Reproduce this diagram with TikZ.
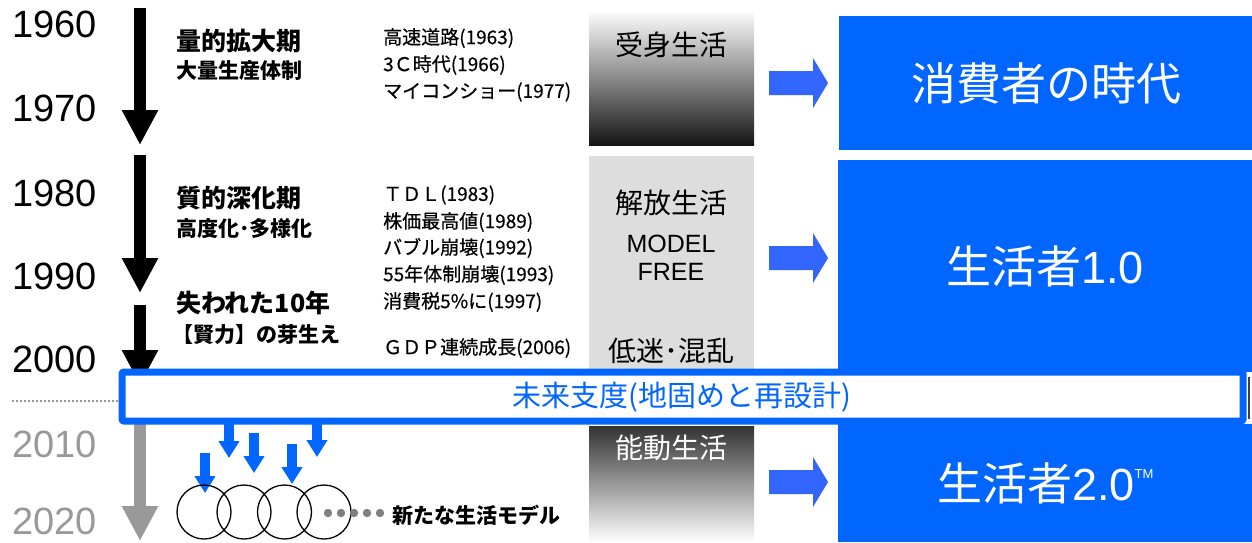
\documentclass[tikz,border=0pt]{standalone}
\usepackage{fontspec}
\setmainfont{Liberation Sans}
\newfontfamily\jp{Noto Sans CJK JP}
\newfontfamily\jpm[FakeBold=0.5]{Noto Sans CJK JP}
\usetikzlibrary{positioning,arrows.meta,shadings}

\definecolor{fhblue}{HTML}{0066FF}
\definecolor{arblue}{HTML}{3366FF}
\definecolor{yeargray}{HTML}{999999}
\definecolor{colgray}{HTML}{DDDDDD}

\tikzset{
  yearlbl/.style={anchor=west, inner sep=0pt, font=\fontsize{38}{38}\selectfont},
  eralbl/.style={anchor=west, inner sep=0pt, font=\jp\bfseries\fontsize{25}{25}\selectfont},
  erasub/.style={anchor=west, inner sep=0pt, font=\jp\bfseries\fontsize{21}{21}\selectfont},
  eventlbl/.style={anchor=west, inner sep=0pt, font=\jpm\fontsize{19}{19}\selectfont},
  lifebox/.style={anchor=north west, inner sep=0pt, minimum width=165pt},
  lifelbl/.style={inner sep=0pt, font=\jp\fontsize{28}{28}\selectfont},
  agebox/.style={anchor=north west, inner sep=0pt, fill=fhblue, text=white,
    minimum width=414pt, font=\fontsize{45}{45}\selectfont},
  timearrow/.style={line width=12pt, -{Triangle[width=34pt,length=35pt]}},
  seedarrow/.style={fhblue, line width=10pt, -{Triangle[width=20pt,length=17pt]}}
}

\begin{document}
\begin{tikzpicture}[x=1pt, y=-1pt]

\newcommand\GX{589}
\newcommand\AX{140}

\fill[white] (0,0) rectangle (1252,542);
\useasboundingbox (0,0) rectangle (1252,542);

%% years
\node[yearlbl] (y1960) at (12,24) {1960};
\node[yearlbl] (y1970) at (12,108) {1970};
\node[yearlbl] (y1980) at (12,193) {1980};
\node[yearlbl] (y1990) at (12,276) {1990};
\node[yearlbl] (y2000) at (12,359) {2000};
\node[yearlbl, text=yeargray] (y2010) at (12,444) {2010};
\node[yearlbl, text=yeargray] (y2020) at (12,521) {2020};

\draw[yeargray, line width=2pt, dash pattern=on 2pt off 2pt] (12,401) -- (118,401);

%% time arrows
\coordinate (t0) at (\AX,8);
\coordinate (t1) at (\AX,145);
\coordinate (t2) at (\AX,155);
\coordinate (t3) at (\AX,293);
\coordinate (t4) at (\AX,305);
\coordinate (t5) at (\AX,385);
\coordinate (t6) at (\AX,420);
\coordinate (t7) at (\AX,541);

\draw[timearrow] (t0) -- (t1);
\draw[timearrow] (t2) -- (t3);
\draw[timearrow] (t4) -- (t5);
\draw[timearrow, yeargray] (t6) -- (t7);

%% eras
\node[eralbl] (era1) at (176,41) {量的拡大期};
\node[erasub] (era1s) at (176,71) {大量生産体制};
\node[eralbl] (era2) at (176,198) {質的深化期};
\node[erasub] (era2s) at (176,229) {高度化･多様化};
\node[eralbl] (era3) at (176,303) {失われた10年};
\node[erasub] (era3s) at (172,335) {【賢力】の芽生え};

%% events
\node[eventlbl] (ev1) at (383,38) {高速道路(1963)};
\node[eventlbl] (ev2) at (383,65) {3Ｃ時代(1966)};
\node[eventlbl] (ev3) at (383,92) {マイコンショー(1977)};
\node[eventlbl] (ev4) at (383,195) {ＴＤＬ(1983)};
\node[eventlbl] (ev5) at (383,222) {株価最高値(1989)};
\node[eventlbl] (ev6) at (383,248) {バブル崩壊(1992)};
\node[eventlbl] (ev7) at (383,275) {55年体制崩壊(1993)};
\node[eventlbl] (ev8) at (383,302) {消費税5\%に(1997)};
\node[eventlbl] (ev9) at (383,348) {ＧＤＰ連続成長(2006)};

%% life styles
\node[lifebox, minimum height=135pt, top color=white, bottom color=black!92] (passive) at (\GX,10) {};
\node[lifelbl] (passivelbl) at (671,45) {受身生活};

\node[lifebox, minimum height=213pt, fill=colgray] (free) at (\GX,156) {};
\node[lifelbl] (freelbl) at (671,203) {解放生活};
\node[inner sep=0pt, font=\fontsize{25}{25}\selectfont, align=center] (model) at (671,258) {MODEL\\[3pt]FREE};
\node[lifelbl] (chaos) at (671,351) {低迷･混乱};

\node[lifebox, minimum height=116pt, top color=black!80, bottom color=white] (active) at (\GX,426) {};
\node[lifelbl, text=white] (activelbl) at (671,448) {能動生活};

%% block arrows
\newcommand\RArr[1]{\fill[arblue] (769,#1-12) -- (813,#1-12) -- (813,#1-25) -- (828,#1)
  -- (813,#1+25) -- (813,#1+12) -- (769,#1+12) -- cycle;}
\RArr{83}
\RArr{258}
\RArr{482}

%% ages
\node[agebox, minimum height=134pt] (consumer) at (839,16) {\jp 消費者の時代};
\node[agebox, minimum height=212pt] (life1) at (838,160) {{\jp 生活者}1.0};
\node[agebox, minimum height=118pt] (life2) at (838,424)
  {{\jp 生活者}2.0\raisebox{22pt}{\fontsize{13}{13}\selectfont TM}};

%% band
\draw[fhblue, line width=7pt, fill=white, rounded corners=2pt] (122,372) rectangle (1243,421);
\node[inner sep=0pt, text=fhblue, font=\jp\fontsize{29}{29}\selectfont] (prep) at (682,397)
  {未来支度(地固めと再設計)};
\draw[black!75, line width=2pt] (1248.5,377) -- (1248.5,419);

%% seeds
\coordinate (s1a) at (205,453); \coordinate (s1b) at (205,493);
\coordinate (s2a) at (229,424); \coordinate (s2b) at (229,458);
\coordinate (s3a) at (254,433); \coordinate (s3b) at (254,473);
\coordinate (s4a) at (292,444); \coordinate (s4b) at (292,484);
\coordinate (s5a) at (317,424); \coordinate (s5b) at (317,457);
\foreach \i in {1,...,5}
  \draw[seedarrow] (s\i a) -- (s\i b);

\foreach \cx [count=\n] in {204,244,284.5,324}
  \draw[line width=1.3pt] (\cx,512) circle (27) node (c\n) {};

\foreach \dx in {328,341,354,367,380}
  \fill[black!50] (\dx,513) circle (4.2);

\node[erasub] (newmodel) at (392,515) {新たな生活モデル};

\end{tikzpicture}
\end{document}
